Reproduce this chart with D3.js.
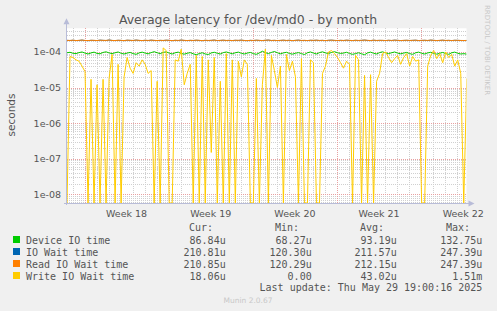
<!DOCTYPE html>
<html>
<head>
<meta charset="utf-8">
<script src="https://cdn.jsdelivr.net/npm/d3@7"></script>
<style>
  body { margin: 0; background: #f0f0f0; }
  svg { display: block; }
</style>
</head>
<body>
<svg id="chart" width="497" height="311"></svg>
<script>
// Data: one sample every 6 hours, values in microseconds (0 = no write wait).
var START_TIME = Date.UTC(2025, 3, 26, 13, 0);
var END_TIME = Date.UTC(2025, 4, 29, 18, 30);
var STEP_HOURS = 6;

var deviceIO = [
  95,98,92,90,96,100,93,88,94,99,
  91,89,97,101,94,90,95,100,92,88,
  93,97,90,86,94,99,93,89,96,102,
  95,90,97,101,93,88,95,99,91,87,
  92,96,89,84,90,95,88,85,94,98,
  92,88,96,100,94,89,95,99,92,88,
  93,97,90,86,94,105,96,90,97,103,
  95,89,94,98,91,87,92,96,90,85,
  95,100,93,88,96,101,94,90,97,102,
  95,91,93,98,91,86,90,95,89,84,
  94,99,92,88,96,101,94,90,95,100,
  93,89,93,97,90,86,95,99,92,88,
  94,98,91,87,92,97,90,86,95,99,
  92,88,90,87];
var ioWait = [
  212,210,214,209,211,216,210,208,213,211,
  209,215,212,210,217,211,209,213,211,208,
  214,212,210,216,211,209,213,210,215,211,
  209,212,210,214,212,208,213,210,216,211,
  209,212,210,214,211,208,213,210,212,216,
  209,211,214,210,212,209,213,211,215,210,
  208,212,210,214,211,209,213,216,210,212,
  209,211,214,210,213,208,212,215,210,211,
  209,213,211,214,210,212,208,213,215,211,
  209,212,210,214,211,209,213,210,212,216,
  211,209,214,210,212,211,209,213,210,215,
  212,209,211,213,210,212,214,209,211,213,
  210,215,212,209,211,214,210,212,209,213,
  212,210,209,211];
var readIOWait = [
  212,211,214,210,212,215,211,209,213,212,
  210,214,212,211,216,211,210,213,212,209,
  214,212,211,215,212,210,213,211,214,212,
  210,212,211,214,212,209,213,211,215,212,
  210,212,211,214,212,209,213,211,212,215,
  210,212,214,211,212,210,213,212,214,211,
  209,212,211,214,212,210,213,215,211,212,
  210,212,214,211,213,209,212,214,211,212,
  210,213,212,214,211,212,209,213,214,212,
  210,212,211,214,212,210,213,211,212,215,
  212,210,214,211,212,212,210,213,211,214,
  212,210,212,213,211,212,214,210,212,213,
  211,215,212,210,212,214,211,212,210,213,
  212,211,210,211];
var writeIOWait = [
  0,75,70,60,55,40,28,0,17,0,
  12,0,17,0,18,85,0,45,0,20,
  70,35,25,50,40,60,45,25,30,0,
  15,0,130,110,0,0,60,55,120,12,
  25,45,0,80,0,75,0,60,0.15,70,
  0,15,0,90,0,60,0,55,20,60,
  45,0,0,18,0,12,120,0,80,30,
  10,40,0,85,30,55,20,0,65,0,
  0,60,50,0,0,25,40,100,110,90,
  70,50,35,55,45,0,80,60,0,22,
  0,23,0,15,25,90,100,70,50,65,
  80,45,70,90,40,75,55,60,0,0,
  40,80,110,65,90,50,100,70,85,40,
  60,25,0,18];

var seriesNames = ['Device IO time', 'IO Wait time', 'Read IO Wait time', 'Write IO Wait time'];
var seriesColors = ['#00cc00', '#0066b3', '#ff8000', '#ffcc00'];
var curLabels = ['86.84u', '210.81u', '210.85u', '18.06u'];
var minLabels = ['68.27u', '120.30u', '120.29u', '0.00'];
var avgLabels = ['93.19u', '211.57u', '212.15u', '43.02u'];
var maxLabels = ['132.75u', '247.39u', '247.39u', '1.51m'];
var yTickValues = [1e-4, 1e-5, 1e-6, 1e-7, 1e-8];
var yTickLabels = ['1e-04', '1e-05', '1e-06', '1e-07', '1e-08'];

// Layout
var PLOT_LEFT = 67;
var PLOT_RIGHT = 466.5;
var PLOT_TOP = 28.3;
var PLOT_BOTTOM = 203;
var MONO = "'DejaVu Sans Mono', monospace";
var SANS = "'DejaVu Sans', sans-serif";

var svg = d3.select('#chart');

var x = d3.scaleUtc().domain([START_TIME, END_TIME]).range([PLOT_LEFT, PLOT_RIGHT]);
var y = d3.scaleLog().domain([5.69e-9, 4.63e-4]).range([PLOT_BOTTOM, PLOT_TOP]).clamp(true);

svg.append('rect').attr('x', 0).attr('y', 0).attr('width', 497).attr('height', 311).attr('fill', '#f0f0f0');
svg.append('rect')
  .attr('x', PLOT_LEFT).attr('y', PLOT_TOP)
  .attr('width', PLOT_RIGHT - PLOT_LEFT).attr('height', PLOT_BOTTOM - PLOT_TOP)
  .attr('fill', '#ffffff');
svg.append('clipPath').attr('id', 'plot-clip').append('rect')
  .attr('x', PLOT_LEFT).attr('y', PLOT_TOP - 2)
  .attr('width', PLOT_RIGHT - PLOT_LEFT).attr('height', PLOT_BOTTOM - PLOT_TOP + 3);

// Grid
var grid = svg.append('g').attr('shape-rendering', 'crispEdges');
var dayTicks = d3.utcDay.range(new Date(START_TIME), new Date(END_TIME));
var weekTicks = d3.utcMonday.range(new Date(START_TIME), new Date(END_TIME));

grid.selectAll('line.vminor').data(dayTicks).enter().append('line')
  .attr('x1', function(d){ return Math.round(x(d)) + 0.5; })
  .attr('x2', function(d){ return Math.round(x(d)) + 0.5; })
  .attr('y1', PLOT_TOP).attr('y2', PLOT_BOTTOM)
  .attr('stroke', '#d0d0d0').attr('stroke-dasharray', '1,1');

var minorY = [];
for (var e = -9; e <= -4; e++) {
  for (var m = 2; m <= 9; m++) {
    var v = m * Math.pow(10, e);
    if (v > y.domain()[0] && v < y.domain()[1]) minorY.push(v);
  }
}
grid.selectAll('line.hminor').data(minorY).enter().append('line')
  .attr('x1', PLOT_LEFT).attr('x2', PLOT_RIGHT)
  .attr('y1', function(d){ return Math.round(y(d)) + 0.5; })
  .attr('y2', function(d){ return Math.round(y(d)) + 0.5; })
  .attr('stroke', '#d0d0d0').attr('stroke-dasharray', '1,1');

grid.selectAll('line.vmajor').data(weekTicks).enter().append('line')
  .attr('x1', function(d){ return Math.round(x(d)) + 0.5; })
  .attr('x2', function(d){ return Math.round(x(d)) + 0.5; })
  .attr('y1', PLOT_TOP).attr('y2', PLOT_BOTTOM)
  .attr('stroke', '#e8a0a0').attr('stroke-dasharray', '1,1');

grid.selectAll('line.hmajor').data(yTickValues).enter().append('line')
  .attr('x1', PLOT_LEFT).attr('x2', PLOT_RIGHT)
  .attr('y1', function(d){ return Math.round(y(d)) + 0.5; })
  .attr('y2', function(d){ return Math.round(y(d)) + 0.5; })
  .attr('stroke', '#e8a0a0').attr('stroke-dasharray', '1,1');

// Series
var allSeries = [deviceIO, ioWait, readIOWait, writeIOWait];
var line = d3.line()
  .x(function(d, i){ return x(START_TIME + i * STEP_HOURS * 3600000); })
  .y(function(d){ return y(d > 0 ? d * 1e-6 : 1e-12); });

svg.append('g').attr('clip-path', 'url(#plot-clip)')
  .selectAll('path').data(allSeries).enter().append('path')
  .attr('d', line)
  .attr('fill', 'none')
  .attr('stroke', function(d, i){ return seriesColors[i]; })
  .attr('stroke-width', 1);

// Axes
var axisColor = '#b8bcd8';
svg.append('line').attr('x1', PLOT_LEFT - 0.5).attr('x2', PLOT_LEFT - 0.5)
  .attr('y1', PLOT_BOTTOM + 2).attr('y2', PLOT_TOP - 6)
  .attr('stroke', axisColor);
svg.append('path').attr('d', 'M' + (PLOT_LEFT - 3.5) + ',' + (PLOT_TOP - 4) + 'L' + (PLOT_LEFT - 0.5) + ',' + (PLOT_TOP - 10) + 'L' + (PLOT_LEFT + 2.5) + ',' + (PLOT_TOP - 4) + 'Z')
  .attr('fill', axisColor);
svg.append('line').attr('x1', PLOT_LEFT - 3).attr('x2', PLOT_RIGHT + 4)
  .attr('y1', PLOT_BOTTOM + 0.5).attr('y2', PLOT_BOTTOM + 0.5)
  .attr('stroke', axisColor);
svg.append('path').attr('d', 'M' + (PLOT_RIGHT + 2) + ',' + (PLOT_BOTTOM - 2.5) + 'L' + (PLOT_RIGHT + 8) + ',' + (PLOT_BOTTOM + 0.5) + 'L' + (PLOT_RIGHT + 2) + ',' + (PLOT_BOTTOM + 3.5) + 'Z')
  .attr('fill', axisColor);

// Tick labels
svg.append('g').selectAll('text').data(yTickValues).enter().append('text')
  .attr('x', 61).attr('y', function(d){ return y(d) + 3.5; })
  .attr('text-anchor', 'end')
  .attr('font-family', SANS).attr('font-size', 9.5).attr('fill', '#555')
  .text(function(d, i){ return yTickLabels[i]; });

var weekFormat = d3.utcFormat('Week %V');
svg.append('g').selectAll('text').data(weekTicks).enter().append('text')
  .attr('x', function(d){ return x(d.getTime() + 3.5 * 86400000); })
  .attr('y', 216.5)
  .attr('text-anchor', 'middle')
  .attr('font-family', SANS).attr('font-size', 9.5).attr('fill', '#555')
  .text(function(d){ return weekFormat(d); });

// Title and labels
svg.append('text').attr('x', 248).attr('y', 23.5).attr('text-anchor', 'middle')
  .attr('font-family', SANS).attr('font-size', 12.5).attr('fill', '#555')
  .text('Average latency for /dev/md0 - by month');
svg.append('text').attr('transform', 'translate(15,115) rotate(-90)').attr('text-anchor', 'middle')
  .attr('font-family', SANS).attr('font-size', 10.5).attr('fill', '#555')
  .text('seconds');
svg.append('text').attr('transform', 'translate(485,5) rotate(90)').attr('text-anchor', 'start')
  .attr('font-family', SANS).attr('font-size', 7).attr('fill', '#c8c8c8')
  .text('RRDTOOL / TOBI OETIKER');

// Legend
var headers = [['Cur:', 213], ['Min:', 299], ['Avg:', 384], ['Max:', 470]];
svg.append('g').selectAll('text').data(headers).enter().append('text')
  .attr('x', function(d){ return d[1]; }).attr('y', 231)
  .attr('text-anchor', 'end')
  .attr('font-family', MONO).attr('font-size', 10).attr('fill', '#555')
  .text(function(d){ return d[0]; });

var rows = svg.append('g').selectAll('g').data(seriesNames).enter().append('g')
  .attr('transform', function(d, i){ return 'translate(0,' + (243.5 + i * 12) + ')'; });
rows.append('rect').attr('x', 13).attr('y', -7.5).attr('width', 7).attr('height', 7)
  .attr('fill', function(d, i){ return seriesColors[i]; });
rows.append('text').attr('x', 26).attr('y', 0)
  .attr('font-family', MONO).attr('font-size', 10).attr('fill', '#555')
  .text(function(d){ return d; });
var cols = [[curLabels, 225.7], [minLabels, 311.7], [avgLabels, 396.7], [maxLabels, 482.3]];
cols.forEach(function(c){
  rows.append('text').attr('x', c[1]).attr('y', 0).attr('text-anchor', 'end')
    .attr('font-family', MONO).attr('font-size', 10).attr('fill', '#555')
    .text(function(d, i){ return c[0][i]; });
});

svg.append('text').attr('x', 482.3).attr('y', 291).attr('text-anchor', 'end')
  .attr('font-family', MONO).attr('font-size', 10).attr('fill', '#555')
  .text('Last update: Thu May 29 19:00:16 2025');
svg.append('text').attr('x', 248).attr('y', 302.5).attr('text-anchor', 'middle')
  .attr('font-family', SANS).attr('font-size', 7.5).attr('fill', '#c8c8c8')
  .text('Munin 2.0.67');
</script>
</body>
</html>
